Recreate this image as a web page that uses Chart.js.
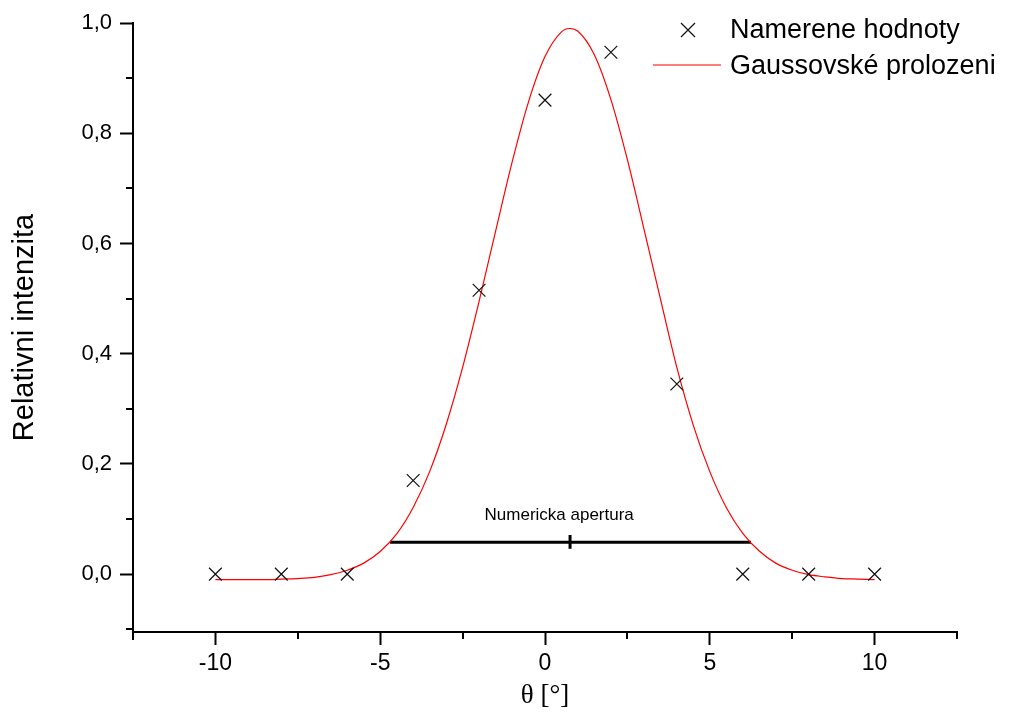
<!DOCTYPE html>
<html>
<head>
<meta charset="utf-8">
<script src="https://cdn.jsdelivr.net/npm/chart.js@4"></script>
<style>
  body { margin: 0; background: #fff; }
  #wrap { width: 1031px; height: 716px; }
</style>
</head>
<body>
<div id="wrap"><canvas id="gaussChart"></canvas></div>
<script>
// measured points
const measuredX = [-10, -8, -6, -4, -2, 0, 2, 4, 6, 8, 10];
const measuredY = [0, 0, 0, 0.17, 0.515, 0.86, 0.947, 0.345, 0, 0, 0];

// fitted curve
const fitX = [
  -10, -9.5, -9, -8.5, -8, -7.5, -7, -6.5, -6, -5.5, -5, -4.5, -4, -3.5, -3,
  -2.5, -2, -1.5, -1, -0.5, 0, 0.5, 0.75, 1, 1.5, 2, 2.5, 3, 3.5, 4, 4.5, 5,
  5.5, 6, 6.5, 7, 7.5, 8, 8.5, 9, 9.5, 10,
];
const fitY = [
  -0.01, -0.01, -0.01, -0.01, -0.009, -0.008, -0.006, -0.001, 0.007, 0.02,
  0.041, 0.073, 0.121, 0.186, 0.271, 0.375, 0.495, 0.622, 0.747, 0.857, 0.939,
  0.984, 0.99, 0.985, 0.942, 0.861, 0.752, 0.627, 0.5, 0.375, 0.27, 0.186,
  0.121, 0.074, 0.042, 0.02, 0.007, -0.001, -0.005, -0.008, -0.009, -0.01,
];

// numerical aperture bar
const apertureX = [-4.7, 6.25];
const apertureY = [0.058, 0.058];
const apertureMidX = [0.76, 0.76];
const apertureMidY = [0.046, 0.071];
const apertureLabel = "Numericka apertura";

const legendLabels = ["Namerene hodnoty", "Gaussovské prolozeni"];
const xTitle = "θ [°]";
const yTitle = "Relativni intenzita";

const toPoints = (xs, ys) => xs.map((x, i) => ({ x: x, y: ys[i] }));

const isMajorX = (v) => Math.abs(Math.round(v * 10) % 50) === 0;
const isMajorY = (v) => Math.abs(Math.round(v * 10) % 2) === 0;

// minor ticks shorter than major ones
const minorTicks = {
  id: "minorTicks",
  afterDraw(chart) {
    const ctx = chart.ctx;
    const xs = chart.scales.x;
    const ys = chart.scales.y;
    ctx.save();
    ctx.strokeStyle = "#000";
    ctx.lineWidth = 2;
    xs.ticks.forEach((t) => {
      if (isMajorX(t.value)) return;
      const px = Math.round(xs.getPixelForValue(t.value));
      ctx.beginPath();
      ctx.moveTo(px, xs.top);
      ctx.lineTo(px, xs.top + 7);
      ctx.stroke();
    });
    ys.ticks.forEach((t) => {
      if (isMajorY(t.value)) return;
      const py = Math.round(ys.getPixelForValue(t.value));
      ctx.beginPath();
      ctx.moveTo(ys.right, py);
      ctx.lineTo(ys.right - 7, py);
      ctx.stroke();
    });
    // y axis runs a little past the x axis
    ctx.beginPath();
    ctx.moveTo(ys.right, xs.top);
    ctx.lineTo(ys.right, xs.top + 8);
    ctx.stroke();
    ctx.restore();
  },
};

const extras = {
  id: "extras",
  afterDraw(chart) {
    const ctx = chart.ctx;
    const xs = chart.scales.x;
    const ys = chart.scales.y;
    ctx.save();
    // aperture label
    ctx.fillStyle = "#000";
    ctx.font = "17px 'Liberation Sans', Arial, sans-serif";
    ctx.textAlign = "center";
    ctx.textBaseline = "middle";
    ctx.fillText(apertureLabel, xs.getPixelForValue(0.43), ys.getPixelForValue(0.107));

    // legend
    ctx.font = "27px 'Liberation Sans', Arial, sans-serif";
    ctx.textAlign = "left";
    ctx.strokeStyle = "#111";
    ctx.lineWidth = 1.2;
    ctx.beginPath();
    ctx.moveTo(681, 23);
    ctx.lineTo(695, 37);
    ctx.moveTo(695, 23);
    ctx.lineTo(681, 37);
    ctx.stroke();
    ctx.fillText(legendLabels[0], 730, 31);

    ctx.strokeStyle = "#ff0000";
    ctx.beginPath();
    ctx.moveTo(653, 65);
    ctx.lineTo(721, 65);
    ctx.stroke();
    ctx.fillText(legendLabels[1], 730, 67);
    ctx.restore();
  },
};

new Chart(document.getElementById("gaussChart"), {
  type: "scatter",
  data: {
    datasets: [
      {
        label: legendLabels[0],
        data: toPoints(measuredX, measuredY),
        pointStyle: "crossRot",
        pointRadius: 9,
        borderColor: "#111",
        borderWidth: 1.2,
        showLine: false,
      },
      {
        label: legendLabels[1],
        data: toPoints(fitX, fitY),
        borderColor: "#ff0000",
        borderWidth: 1.2,
        pointRadius: 0,
        showLine: true,
        cubicInterpolationMode: "monotone",
      },
      {
        label: "apertura",
        data: toPoints(apertureX, apertureY),
        borderColor: "#000",
        borderWidth: 3,
        pointRadius: 0,
        showLine: true,
      },
      {
        label: "stred",
        data: toPoints(apertureMidX, apertureMidY),
        borderColor: "#000",
        borderWidth: 3,
        pointRadius: 0,
        showLine: true,
      },
    ],
  },
  options: {
    responsive: true,
    maintainAspectRatio: false,
    animation: false,
    layout: { padding: { top: 23, right: 74, left: 0, bottom: 0 } },
    plugins: {
      legend: { display: false },
      tooltip: { enabled: false },
    },
    scales: {
      x: {
        min: -12.5,
        max: 12.5,
        afterFit: (scale) => {
          scale.height = 84;
        },
        border: { display: true, color: "#000", width: 2 },
        grid: {
          drawOnChartArea: false,
          drawTicks: true,
          tickLength: 13,
          tickWidth: 2,
          tickColor: (c) => (c.tick && isMajorX(c.tick.value) ? "#000" : "rgba(0,0,0,0)"),
        },
        ticks: {
          stepSize: 2.5,
          includeBounds: false,
          autoSkip: false,
          maxRotation: 0,
          padding: 5,
          color: "#000",
          font: { family: "'Liberation Sans', Arial, sans-serif", size: 23 },
          callback: (v) => (isMajorX(v) ? String(Math.round(v)) : ""),
        },
        title: {
          display: true,
          text: xTitle,
          color: "#000",
          font: { family: "'Liberation Serif', serif", size: 27 },
          padding: { top: 0, bottom: 4 },
        },
      },
      y: {
        min: -0.105,
        max: 1.0,
        afterFit: (scale) => {
          scale.width = 133;
        },
        border: { display: true, color: "#000", width: 2 },
        grid: {
          drawOnChartArea: false,
          drawTicks: true,
          tickLength: 13,
          tickWidth: 2,
          tickColor: (c) => (c.tick && isMajorY(c.tick.value) ? "#000" : "rgba(0,0,0,0)"),
        },
        ticks: {
          stepSize: 0.1,
          includeBounds: false,
          autoSkip: false,
          padding: 8,
          color: "#000",
          font: { family: "'Liberation Sans', Arial, sans-serif", size: 22 },
          callback: (v) => (isMajorY(v) ? v.toFixed(1).replace(".", ",") : ""),
        },
        title: {
          display: true,
          text: yTitle,
          color: "#000",
          font: { family: "'Liberation Sans', Arial, sans-serif", size: 29 },
          padding: { top: 8, bottom: 0 },
        },
      },
    },
  },
  plugins: [minorTicks, extras],
});
</script>
</body>
</html>
